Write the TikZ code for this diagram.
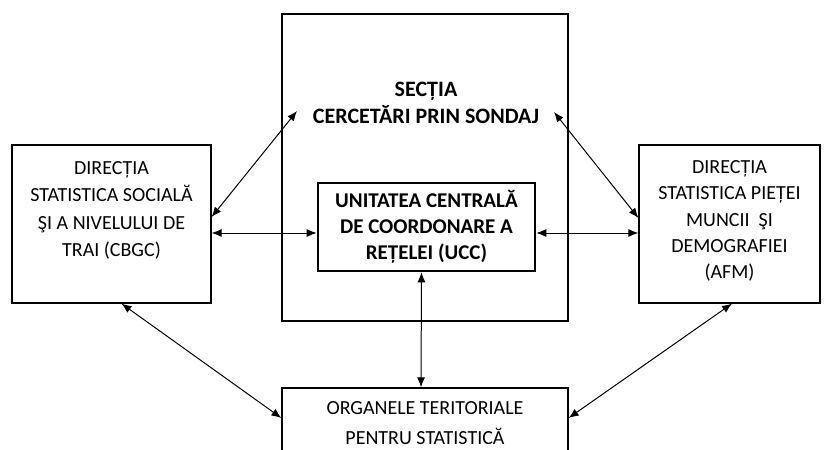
\documentclass[tikz,border=0pt]{standalone}
\usepackage{fontspec}
\setmainfont{Carlito}
\usetikzlibrary{arrows.meta}
\tikzset{
  box/.style={draw, line width=1.2pt, inner sep=0pt},
  txt/.style={align=center, font=\fontsize{20}{27.5}\selectfont},
  link/.style={{Latex[length=10pt,width=8pt]}-{Latex[length=10pt,width=8pt]}, line width=1pt}
}

\begin{document}
\begin{tikzpicture}[x=1pt,y=-1pt]
  \useasboundingbox (0,0) rectangle (825,450);
  \clip (0,0) rectangle (825,450);
  % the boxes
  \node[box, minimum width=286pt, minimum height=307pt] (sectie) at (425,167.5) {};
  \node[box, minimum width=199pt, minimum height=158pt] (cbgc) at (111.5,224) {};
  \node[box, minimum width=181pt, minimum height=158pt] (afm) at (729.5,224) {};
  \node[box, minimum width=286pt, minimum height=90pt] (org) at (425,433) {};
  \node[box, line width=2.6pt, minimum width=217pt, minimum height=88pt,
        txt, font=\fontsize{21}{26}\selectfont\bfseries] (ucc) at (426.5,227)
        {UNITATEA CENTRALĂ\\DE COORDONARE A\\REȚELEI (UCC)};
  % the texts
  \node[txt, font=\fontsize{22}{27}\selectfont\bfseries] (sectxt) at (426,103)
        {SECȚIA\\CERCETĂRI PRIN SONDAJ};
  \node[txt] (cbgctxt) at (111.5,210.5)
        {DIRECȚIA\\STATISTICA SOCIALĂ\\ŞI A NIVELULUI DE\\TRAI (CBGC)};
  \node[txt, font=\fontsize{20}{26.2}\selectfont] (afmtxt) at (729.5,221)
        {DIRECȚIA\\STATISTICA PIEȚEI\\MUNCII~ ŞI\\DEMOGRAFIEI\\(AFM)};
  \node[txt, font=\fontsize{20}{30}\selectfont] (orgtxt) at (425,423)
        {ORGANELE TERITORIALE\\PENTRU STATISTICĂ};
  % the links
  \coordinate (secl) at (297,111);
  \coordinate (secr) at (554,112);
  \draw[link] ([yshift=7pt]cbgc.east) -- (secl);
  \draw[link] (secr) -- ([yshift=6pt]afm.west);
  \draw[link] ([yshift=-9pt]cbgc.east) -- ([yshift=-6pt]ucc.west);
  \draw[link] ([yshift=-6pt]ucc.east) -- ([yshift=-9pt]afm.west);
  \draw[link] ([xshift=-5pt]ucc.south) -- ([xshift=-4pt]org.north);
  \draw[link] ([xshift=10pt]cbgc.south) -- ([yshift=15pt]org.west);
  \draw[link] ([xshift=2.5pt]afm.south) -- ([yshift=15pt]org.east);
\end{tikzpicture}
\end{document}
